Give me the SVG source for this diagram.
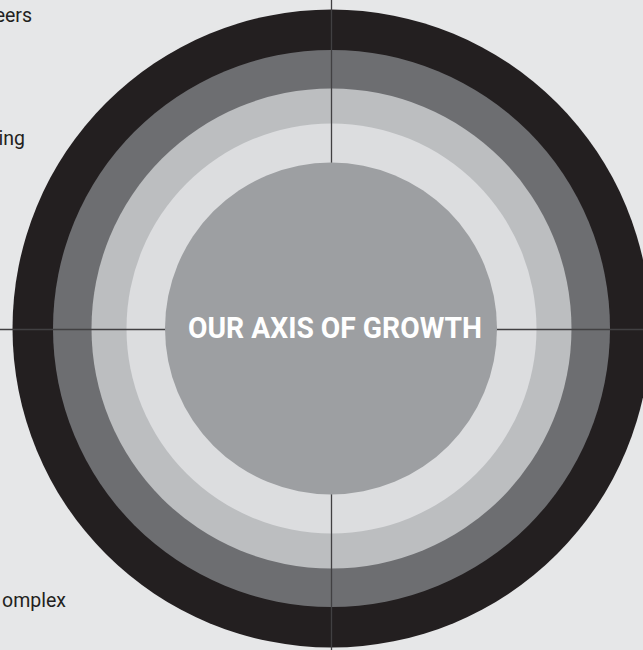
<svg xmlns="http://www.w3.org/2000/svg" width="643" height="650" viewBox="0 0 643 650">
  <style>
    .bg { fill: #e6e7e8; }
    .axis { stroke: #414042; stroke-width: 1.3; fill: none; }
    .side { font-family: Roboto, "Liberation Sans", sans-serif; font-size: 19.5px; fill: #231f20; }
    .title { font-family: Roboto, "Liberation Sans", sans-serif; font-size: 29px; font-weight: bold; fill: #ffffff; }
  </style>
  <rect class="bg" x="0" y="0" width="643" height="650"/>

  <!-- side labels, running in from the left edge -->
  <g id="labels">
    <text class="side" x="32" y="22" text-anchor="end">eers</text>
    <text class="side" x="25" y="145" text-anchor="end">ing</text>
    <text class="side" x="66" y="607" text-anchor="end">omplex</text>
  </g>

  <!-- concentric rings -->
  <g id="ring-outer"><circle cx="331.5" cy="328.5" r="319" fill="#231f20"/></g>
  <g id="ring-2"><circle cx="331.5" cy="328.5" r="278.5" fill="#6d6e71"/></g>
  <g id="ring-3"><circle cx="331.5" cy="328.5" r="240" fill="#bcbec0"/></g>
  <g id="ring-4"><circle cx="331.5" cy="328.5" r="205" fill="#dcdddf"/></g>

  <!-- axes -->
  <g id="connectors">
    <line class="axis" x1="331.5" y1="0" x2="331.5" y2="650"/>
    <line class="axis" x1="0" y1="329.5" x2="643" y2="329.5"/>
  </g>

  <!-- core -->
  <g id="core">
    <circle cx="331" cy="328.5" r="166" fill="#9d9fa2"/>
    <text class="title" x="335" y="338" text-anchor="middle" textLength="294" lengthAdjust="spacingAndGlyphs">OUR AXIS OF GROWTH</text>
  </g>
</svg>
